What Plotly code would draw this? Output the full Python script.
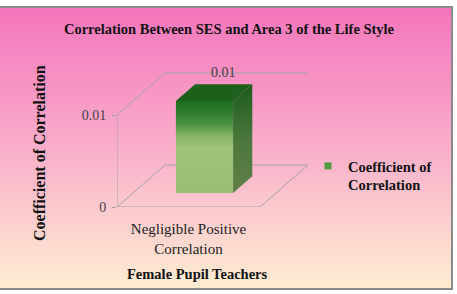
import base64
import plotly.graph_objects as go

# ---------------- data ----------------
categories = ["Negligible Positive<br>Correlation"]
coefficient = [0.01]
data_labels = ["0.01"]
tick_vals = [0, 0.01]
tick_text = ["0", "0.01"]
series_name = "Coefficient of<br>Correlation"
title_text = "Correlation Between SES and Area 3 of the Life Style"
x_title = "Female Pupil Teachers"
y_title = "Coefficient of Correlation"

# ---------------- layout constants ----------------
W, H = 457, 294
FONT = "Liberation Serif, Times New Roman, serif"
YMAX = tick_vals[-1]
DX = 48 / 143            # depth shift in category units
DY = YMAX * 42 / 92      # depth shift in value units
HALF = 0.2               # half bar width (category units)
F0, F1 = 1 / 3, 0.733    # bar depth start / end (fraction of full depth)
LINE = "#a3a3a3"

front_scale = [[0, "#99be74"], [0.5, "#9fc47b"], [0.62, "#86b468"],
               [0.75, "#4a9040"], [0.9, "#2a7a2a"], [1, "#1e6b1e"]]
side_scale = [[0, "#607f49"], [0.5, "#4b773d"], [1, "#1b5a1b"]]
top_color = "#1c601c"

fig = go.Figure()

# walls / floor outline
n = len(categories)
x0, x1 = -0.5, n - 0.5
fig.add_trace(go.Scatter(
    x=[x0, x0, x1, x1 + DX, x0 + DX, x0, None, x0, x0 + DX, x1 + DX],
    y=[YMAX, 0, 0, DY, DY, 0, None, YMAX, YMAX + DY, YMAX + DY],
    mode="lines", line=dict(color=LINE, width=1),
    showlegend=False, hoverinfo="skip"))

for i, v in enumerate(coefficient):
    xl, xr = i - HALF, i + HALF
    # front face
    fx = [xl + DX * F0, xr + DX * F0, xr + DX * F0, xl + DX * F0, xl + DX * F0]
    fy = [DY * F0, DY * F0, v + DY * F0, v + DY * F0, DY * F0]
    fig.add_trace(go.Scatter(x=fx, y=fy, fill="toself", mode="lines",
                             line=dict(width=0, color="rgba(0,0,0,0)"),
                             fillgradient=dict(type="vertical", colorscale=front_scale),
                             showlegend=False, hoverinfo="skip"))
    # side face
    sx = [xr + DX * F0, xr + DX * F1, xr + DX * F1, xr + DX * F0, xr + DX * F0]
    sy = [DY * F0, DY * F1, v + DY * F1, v + DY * F0, DY * F0]
    fig.add_trace(go.Scatter(x=sx, y=sy, fill="toself", mode="lines",
                             line=dict(width=0, color="rgba(0,0,0,0)"),
                             fillgradient=dict(type="vertical", colorscale=side_scale),
                             showlegend=False, hoverinfo="skip"))
    # top face
    tx = [xl + DX * F0, xr + DX * F0, xr + DX * F1, xl + DX * F1, xl + DX * F0]
    ty = [v + DY * F0, v + DY * F0, v + DY * F1, v + DY * F1, v + DY * F0]
    fig.add_trace(go.Scatter(x=tx, y=ty, fill="toself", mode="lines",
                             line=dict(width=0, color="rgba(0,0,0,0)"),
                             fillcolor=top_color,
                             showlegend=False, hoverinfo="skip"))
    # data label
    fig.add_annotation(x=i + DX * F1, y=v + DY * F1, text=data_labels[i],
                       showarrow=False, yshift=12, xanchor="center", yanchor="middle",
                       font=dict(family=FONT, size=14, color="#404040"))

# legend entry
fig.add_trace(go.Scatter(x=[None], y=[None], mode="markers", name=f"<b>{series_name}</b>",
                         marker=dict(symbol="square", size=7, color="#4f9a45")))

# background (gradient + frame)
svg = f'''<svg xmlns="http://www.w3.org/2000/svg" width="{W}" height="{H}" viewBox="0 0 {W} {H}" preserveAspectRatio="none">
<defs><linearGradient id="g" x1="0" y1="0" x2="0" y2="1">
<stop offset="0" stop-color="#f475bc"/>
<stop offset="0.45" stop-color="#f9a8c9"/>
<stop offset="0.78" stop-color="#fcd2cf"/>
<stop offset="1" stop-color="#feedd1"/>
</linearGradient></defs>
<rect x="0" y="0" width="{W}" height="{H}" fill="#ffffff"/>
<rect x="-2" y="7" width="454" height="282" fill="url(#g)" stroke="#8a8a8a" stroke-width="2"/>
</svg>'''
uri = "data:image/svg+xml;base64," + base64.b64encode(svg.encode()).decode()

fig.update_layout(
    width=W, height=H,
    margin=dict(l=0, r=0, t=0, b=0),
    paper_bgcolor="#ffffff", plot_bgcolor="rgba(0,0,0,0)",
    images=[dict(source=uri, xref="paper", yref="paper", x=0, y=1,
                 sizex=1, sizey=1, xanchor="left", yanchor="top",
                 sizing="stretch", layer="below")],
    title=dict(text=f"<b>{title_text}</b>", x=229 / W, y=1 - 29 / H,
               xanchor="center", yanchor="middle",
               font=dict(family=FONT, size=14.5, color="#111111")),
    xaxis=dict(domain=[117 / W, 308 / W], range=[x0, x1 + DX],
               showgrid=False, zeroline=False, showline=False, ticks="",
               tickvals=list(range(n)), ticktext=categories, ticklabelstandoff=11,
               tickfont=dict(family=FONT, size=15, color="#222222"),
               automargin=False, fixedrange=True),
    yaxis=dict(domain=[1 - 207 / H, 1 - 72 / H], range=[0, YMAX * 135 / 92],
               showgrid=False, zeroline=False, showline=False,
               ticks="outside", ticklen=4, tickcolor=LINE, ticklabelstandoff=3,
               tickvals=tick_vals, ticktext=tick_text,
               tickfont=dict(family=FONT, size=14, color="#444444"),
               automargin=False, fixedrange=True),
    legend=dict(x=308 / W, y=1 - 150 / H, xanchor="left", yanchor="top",
                bgcolor="rgba(0,0,0,0)", valign="top",
                font=dict(family=FONT, size=14.5, color="#111111")),
    showlegend=True,
)

fig.add_annotation(x=39 / W, y=1 - 153 / H, xref="paper", yref="paper",
                   xanchor="center", yanchor="middle",
                   text=f"<b>{y_title}</b>", textangle=-90, showarrow=False,
                   font=dict(family=FONT, size=16, color="#111111"))
fig.add_annotation(x=197 / W, y=1 - 274 / H, xref="paper", yref="paper",
                   xanchor="center", yanchor="middle",
                   text=f"<b>{x_title}</b>", showarrow=False,
                   font=dict(family=FONT, size=14.5, color="#111111"))

fig.write_html("out.html")
